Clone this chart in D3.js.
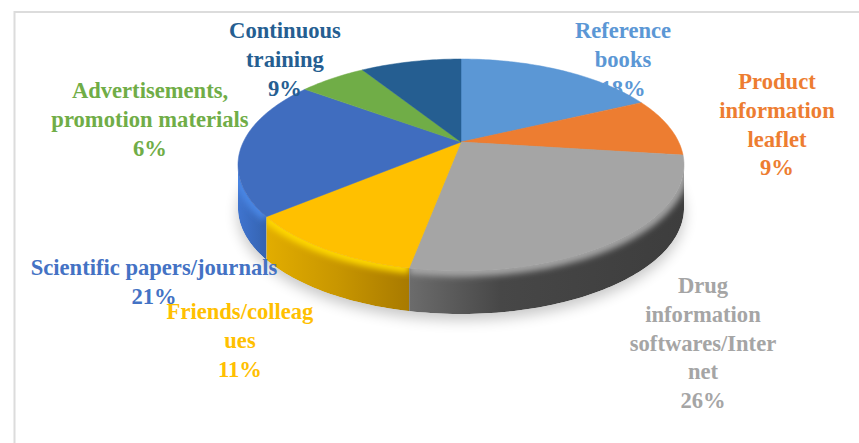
<!DOCTYPE html>
<html>
<head>
<meta charset="utf-8">
<script src="https://cdn.jsdelivr.net/npm/d3@7"></script>
<style>
  html, body { margin: 0; padding: 0; background: #fff; }
  svg { display: block; }
  text { font-family: "Liberation Serif", serif; font-weight: bold; font-size: 22.6px; text-anchor: middle; }
</style>
</head>
<body>
<div id="chart"></div>
<script>
// shares in %, clockwise from 12 o'clock
var categories = ["Reference books", "Product information leaflet", "Drug information softwares/Internet", "Friends/colleagues", "Scientific papers/journals", "Advertisements, promotion materials", "Continuous training"];
var values = [18, 9, 26, 11, 21, 6, 9];
var labelLines = [
  ["Reference", "books", "18%"],
  ["Product", "information", "leaflet", "9%"],
  ["Drug", "information", "softwares/Inter", "net", "26%"],
  ["Friends/colleag", "ues", "11%"],
  ["Scientific papers/journals", "21%"],
  ["Advertisements,", "promotion materials", "6%"],
  ["Continuous", "training", "9%"]
];

var width = 859, height = 443;
var colours = ["#5b97d5", "#ed7d31", "#a5a5a5", "#ffc000", "#406dbf", "#70ad47", "#255e91"];
var rimColours = ["#5b97d5", "#b5682c", "#a5a5a5", "#ffd800", "#4a86e4", "#70ad47", "#255e91"];
var wallStops = [
  ["#5b97d5", "#5b97d5"],
  ["#7a4a20", "#5a3a20"],
  ["#6c6c6c", "#474747", "#424242", "#3d3d3d"],
  ["#e2ad00", "#c89600", "#a87a00"],
  ["#3f74cf", "#3563b0"],
  ["#70ad47", "#70ad47"],
  ["#255e91", "#255e91"]
];
var labelAnchor = [[623, 38], [777, 89], [703, 293], [240, 319], [154, 275], [150, 98], [285, 38]];
var lineHeight = 28.8;

// tilted disc: perspective of a unit circle
var cx = 461, cy = 142, rx = 217.7, ry = 101, tilt = 0.217, depth = 43;

function project(a) {
  var u = Math.sin(a), v = -Math.cos(a), w = 1 - tilt * v;
  return [cx + rx * u / w, cy + ry * v / w];
}

function sample(a0, a1) {
  var n = Math.max(2, Math.ceil((a1 - a0) / 0.02));
  return d3.range(n + 1).map(function (i) { return project(a0 + (a1 - a0) * i / n); });
}

var line = d3.line();
var pie = d3.pie().sort(null).value(function (d) { return d; });
var arcs = pie(values);

var svg = d3.select("#chart").append("svg")
  .attr("width", width)
  .attr("height", height);

var defs = svg.append("defs");
defs.append("filter").attr("id", "shadowBlur")
  .attr("x", "-10%").attr("y", "-10%").attr("width", "120%").attr("height", "130%")
  .append("feGaussianBlur").attr("stdDeviation", 7);
defs.append("filter").attr("id", "rimBlur")
  .attr("x", "-10%").attr("y", "-10%").attr("width", "120%").attr("height", "130%")
  .append("feGaussianBlur").attr("stdDeviation", 3.2);

// frame, open to the right and bottom
svg.append("rect")
  .attr("x", 14.5).attr("y", 12)
  .attr("width", width + 20).attr("height", height + 20)
  .attr("fill", "#fff")
  .attr("stroke", "#dcdcdc")
  .attr("stroke-width", 2);

var whole = sample(0, 2 * Math.PI);

// soft shadow below the disc
svg.append("path")
  .attr("d", line(whole) + "Z")
  .attr("transform", "translate(0," + (depth + 6) + ")")
  .attr("fill", "#000")
  .attr("opacity", 0.22)
  .attr("filter", "url(#shadowBlur)");

// side walls, only the part facing the viewer
var frontStart = 1.79, frontEnd = 4.49;
var walls = svg.append("g");
arcs.forEach(function (d, i) {
  var a0 = Math.max(d.startAngle, frontStart), a1 = Math.min(d.endAngle, frontEnd);
  if (a1 <= a0) return;
  var top = sample(a0, a1);
  var bottom = top.map(function (p) { return [p[0], p[1] + depth]; }).reverse();
  var xs = top.map(function (p) { return p[0]; });
  var wallX = d3.scaleLinear().domain([0, wallStops[i].length - 1]).range(d3.extent(xs));

  var grad = defs.append("linearGradient")
    .attr("id", "wall" + i)
    .attr("gradientUnits", "userSpaceOnUse")
    .attr("x1", d3.min(xs)).attr("x2", d3.max(xs))
    .attr("y1", 0).attr("y2", 0);
  wallStops[i].forEach(function (c, j) {
    grad.append("stop")
      .attr("offset", (wallX(j) - d3.min(xs)) / (d3.max(xs) - d3.min(xs)))
      .attr("stop-color", c);
  });

  var outline = line(top.concat(bottom)) + "Z";
  defs.append("clipPath").attr("id", "clip" + i).append("path").attr("d", outline);

  var g = walls.append("g").attr("clip-path", "url(#clip" + i + ")");
  g.append("path").attr("d", outline).attr("fill", "url(#wall" + i + ")");
  // rounded edge: the top colour bleeding over the wall
  g.append("path")
    .attr("d", line(top))
    .attr("fill", "none")
    .attr("stroke", rimColours[i])
    .attr("stroke-width", 11)
    .attr("filter", "url(#rimBlur)");
});

// top faces
svg.append("g").selectAll("path")
  .data(arcs)
  .enter().append("path")
  .attr("d", function (d) {
    return line([[cx, cy]].concat(sample(d.startAngle, d.endAngle))) + "Z";
  })
  .attr("fill", function (d, i) { return colours[i]; })
  .attr("stroke", function (d, i) { return colours[i]; })
  .attr("stroke-width", 0.5);

// labels
var labels = svg.append("g").selectAll("text")
  .data(labelLines)
  .enter().append("text")
  .attr("fill", function (d, i) { return colours[i] == "#406dbf" ? "#4472c4" : colours[i]; });

labels.each(function (d, i) {
  d3.select(this).selectAll("tspan")
    .data(d)
    .enter().append("tspan")
    .attr("x", labelAnchor[i][0])
    .attr("y", function (t, j) { return labelAnchor[i][1] + j * lineHeight; })
    .text(function (t) { return t; });
});
</script>
</body>
</html>
